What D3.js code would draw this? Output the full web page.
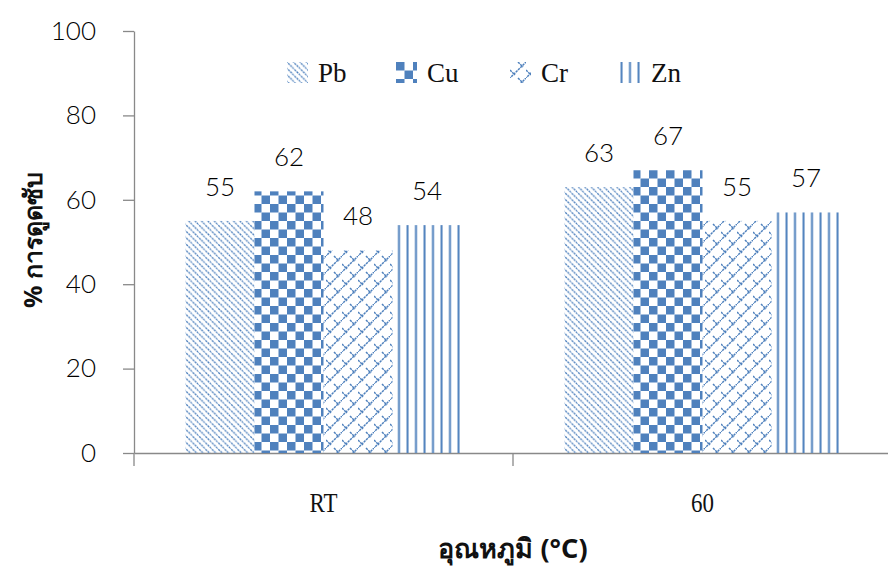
<!DOCTYPE html>
<html>
<head>
<meta charset="utf-8">
<script src="https://cdn.jsdelivr.net/npm/d3@7"></script>
<style>
  html, body { margin: 0; padding: 0; background: #fff; }
  svg { display: block; }
</style>
</head>
<body>
<svg id="chart" width="888" height="567"></svg>
<script>
// Temperature groups and metals
const categories = ["RT", "60"];
const metals = ["Pb", "Cu", "Cr", "Zn"];
// Adsorption (%) per metal, in category order
const pbValues = [55, 63];
const cuValues = [62, 67];
const crValues = [48, 55];
const znValues = [54, 57];
const yTicks = [0, 20, 40, 60, 80, 100];
const xTitle = "อุณหภูมิ (°C)";
const yTitle = "% การดูดซับ";

const seriesValues = { Pb: pbValues, Cu: cuValues, Cr: crValues, Zn: znValues };
const rows = categories.map((c, i) => ({
  category: c,
  bars: metals.map(m => ({ metal: m, value: seriesValues[m][i] }))
}));

const blue = "#4f81bd";
const axisColor = "#898989";
const numFont = "Lato, 'Liberation Sans', sans-serif";
const serifFont = "'Liberation Serif', 'DejaVu Serif', serif";

const svg = d3.select("#chart");

// Fill patterns for each metal
const defs = svg.append("defs");
function pattern(id, w, h) {
  return defs.append("pattern").attr("id", id)
    .attr("patternUnits", "userSpaceOnUse").attr("width", w).attr("height", h);
}
// Pb: downward diagonals
const pPb = pattern("pat-Pb", 6.4, 6.4);
pPb.append("path").attr("d", "M-1,-1 L7.4,7.4 M-4.2,2.2 L2.2,8.6 M4.2,-2.2 L10.6,4.2")
  .attr("stroke", blue).attr("stroke-width", 1.3).attr("stroke-dasharray", "2.2,0.8");
// Cu: checkerboard
const pCu = pattern("pat-Cu", 17, 17);
pCu.append("rect").attr("width", 8.5).attr("height", 8.5).attr("fill", blue);
pCu.append("rect").attr("x", 8.5).attr("y", 8.5).attr("width", 8.5).attr("height", 8.5).attr("fill", blue);
// Cr: shingles (upward diagonals joined by short downward steps)
const pCr = pattern("pat-Cr", 16, 16);
pCr.append("path").attr("d", "M-1,17 L17,-1 M0,8 L5,13 M8,0 L13,5 M8,16 L13,21 M-8,8 L-3,13")
  .attr("stroke", blue).attr("stroke-width", 1.5).attr("fill", "none")
  .attr("stroke-dasharray", "2.4,0.8");

// Zn: vertical lines
const pZn = pattern("pat-Zn", 8.5, 10);
pZn.append("rect").attr("x", 0.5).attr("width", 2).attr("height", 10).attr("fill", blue);

// Scales
const x0 = d3.scaleBand().domain(categories).range([134, 892]).paddingInner(0).paddingOuter(0);
const x1 = d3.scaleBand().domain(metals).range([0, x0.bandwidth()]).paddingInner(0).paddingOuter(0.746);
const y = d3.scaleLinear().domain([0, 100]).range([453, 31]);

// Y axis
const yAxis = svg.append("g").attr("transform", "translate(134,0)")
  .call(d3.axisLeft(y).tickValues(yTicks).tickSize(11).tickPadding(27).tickSizeOuter(0));
yAxis.select(".domain").attr("stroke", axisColor).attr("stroke-width", 1.3);
yAxis.selectAll(".tick line").attr("stroke", axisColor).attr("stroke-width", 1.3);
yAxis.selectAll(".tick text").attr("font-family", numFont).attr("font-size", 26)
  .attr("font-weight", 300).attr("fill", "#000");

// X axis: ticks on the group boundaries
const xAxis = svg.append("g").attr("transform", "translate(0,453)")
  .call(d3.axisBottom(x0).tickSize(0).tickPadding(40).tickSizeOuter(0));
xAxis.select(".domain").attr("stroke", axisColor).attr("stroke-width", 1.3);
xAxis.selectAll(".tick text").attr("font-family", serifFont).attr("font-size", 27)
  .attr("fill", "#111").attr("transform", "scale(0.85,1)");
const bounds = categories.map(c => x0(c)).concat([x0(categories[categories.length - 1]) + x0.bandwidth()]);
xAxis.selectAll(".bound").data(bounds).join("line").attr("class", "bound")
  .attr("x1", d => d).attr("x2", d => d).attr("y1", 0).attr("y2", 13)
  .attr("stroke", axisColor).attr("stroke-width", 1.3);

// Bars
const groups = svg.append("g").selectAll("g").data(rows).join("g")
  .attr("transform", d => `translate(${x0(d.category)},0)`);
groups.selectAll("rect").data(d => d.bars).join("rect")
  .attr("x", d => x1(d.metal)).attr("width", x1.bandwidth())
  .attr("y", d => y(d.value)).attr("height", d => y(0) - y(d.value))
  .attr("fill", d => `url(#pat-${d.metal})`);

// Value labels
groups.selectAll("text.val").data(d => d.bars).join("text").attr("class", "val")
  .attr("x", d => x1(d.metal) + x1.bandwidth() / 2)
  .attr("y", d => y(d.value) - 25)
  .attr("text-anchor", "middle")
  .attr("font-family", numFont).attr("font-size", 26).attr("font-weight", 300)
  .attr("fill", "#000").text(d => d.value);

// Legend
const legendX = [287, 396, 510, 620];
const legend = svg.append("g").selectAll("g").data(metals).join("g")
  .attr("transform", (d, i) => `translate(${legendX[i]},62)`);
legend.append("rect").attr("width", 21).attr("height", 21).attr("fill", d => `url(#pat-${d})`);
legend.append("text").attr("x", 31).attr("y", 20)
  .attr("font-family", serifFont).attr("font-size", 27).attr("fill", "#111")
  .text(d => d);

// Axis titles
svg.append("text").attr("x", 513).attr("y", 558).attr("text-anchor", "middle")
  .attr("font-family", "'Noto Sans', 'DejaVu Sans', sans-serif")
  .attr("font-size", 27).attr("font-weight", "bold").attr("fill", "#111").text(xTitle);
svg.append("text").attr("transform", "translate(42,240) rotate(-90)")
  .attr("text-anchor", "middle")
  .attr("font-family", "'Noto Sans', 'DejaVu Sans', sans-serif")
  .attr("font-size", 25).attr("font-weight", "bold").attr("fill", "#111").text(yTitle);
</script>
</body>
</html>
